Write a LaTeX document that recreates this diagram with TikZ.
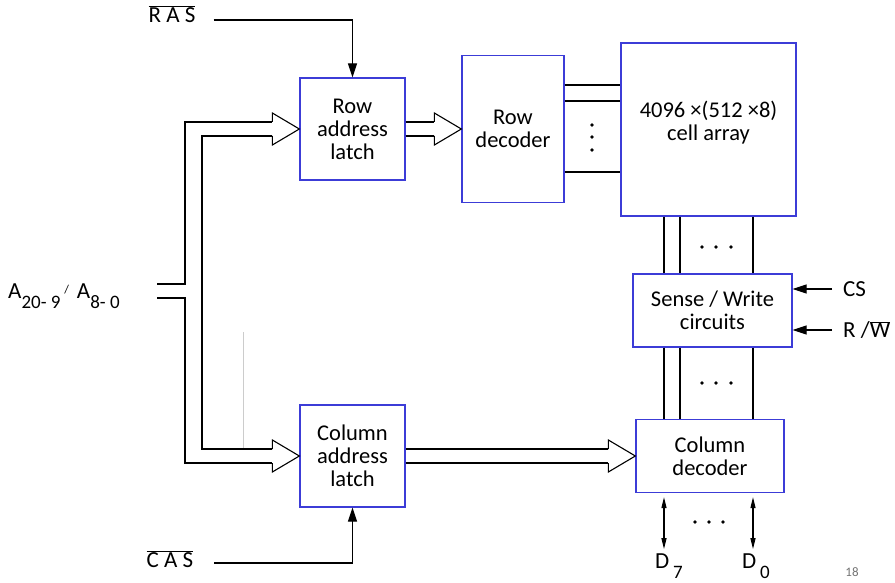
\documentclass[tikz,border=0pt]{standalone}
\usepackage{fontspec}
\setmainfont{Carlito}
\usetikzlibrary{arrows.meta,calc}
\definecolor{boxblue}{RGB}{60,60,215}
\newcommand{\lowsub}[1]{\raisebox{-0.45em}{\fontsize{19}{19}\selectfont #1}}
\tikzset{
  blk/.style={rectangle, draw=boxblue, line width=1.3pt, align=center,
    inner sep=0pt, font=\fontsize{22.5}{23}\selectfont},
  lbl/.style={inner sep=1pt, font=\fontsize{23}{23}\selectfont},
  wire/.style={line width=1.1pt, draw=black},
  sig/.style={wire, -{Triangle[length=14pt,width=9pt]}},
  io/.style={wire, {Triangle[length=11pt,width=5pt]}-{Triangle[length=11pt,width=5pt]}},
  bushead/.pic={\draw[wire, line join=miter] (-27,-7) -- (-27,-16) -- (0,0) -- (-27,16) -- (-27,7);},
}

\begin{document}
\begin{tikzpicture}[x=1pt, y=-1pt]
  \useasboundingbox (0,0) rectangle (895,583);
  % blocks
  \node[blk, minimum width=105pt, minimum height=102pt] (rlatch) at (352.5,129) {Row\\address\\latch};
  \node[blk, minimum width=102pt, minimum height=147pt] (rdec) at (513,129) {Row\\decoder};
  \node[blk, minimum width=175pt, minimum height=173pt,
    label={[blk, draw=none, yshift=7pt]center:{4096 ×(512 ×8)\\cell array}}] (cells) at (708.5,129.5) {};
  \node[blk, minimum width=159pt, minimum height=73pt] (sw) at (712.5,310.5) {Sense / Write\\circuits};
  \node[blk, minimum width=148pt, minimum height=73pt] (cdec) at (710,456) {Column\\decoder};
  \node[blk, minimum width=105pt, minimum height=102pt] (clatch) at (352.5,456) {Column\\address\\latch};

  % labels
  \node[lbl] (ras) at (172,14) {$\overline{\hbox{R A S}}$};
  \node[lbl] (cas) at (170,559) {$\overline{\hbox{C A S}}$};
  \node[lbl, anchor=base west] (addr) at (7,298)
    {A\lowsub{20- 9}\,\raisebox{5pt}{\fontsize{12}{12}\selectfont /}\hspace{8pt}A\lowsub{8- 0}};
  \node[lbl, anchor=west] (cs) at (842,289) {CS};
  \node[lbl, anchor=west] (rw) at (842,330) {R /$\overline{\hbox{W}}$};
  \node[lbl, anchor=base west] (d7) at (654,568) {D\,\lowsub{7}};
  \node[lbl, anchor=base west] (d0) at (741,568) {D\,\lowsub{0}};
  \node[inner sep=0pt, text=black!55, font=\fontsize{13}{13}\selectfont] (page) at (852,572) {18};

  % address bus
  \coordinate (bus) at (157,291);
  \coordinate (vo) at (185,291);
  \coordinate (vi) at (202,291);
  \draw[wire] ($(bus)+(0,-7)$) -| ($(vo)+(0,-7)$) |- ($(rlatch.west)+(-27,-7)$);
  \draw[wire] ($(bus)+(0,7)$) -| ($(vo)+(0,7)$) |- ($(clatch.west)+(-27,7)$);
  \draw[wire] ($(rlatch.west)+(-27,7)$) -| (vi) |- ($(clatch.west)+(-27,-7)$);
  \draw[black!20, line width=0.6pt] (243,332) -- (243,448);
  \pic at (rlatch.west) {bushead};
  \pic at (clatch.west) {bushead};
  \draw[wire] ($(rlatch.east)+(0,-7)$) -- ($(rdec.west)+(-27,-7)$);
  \draw[wire] ($(rlatch.east)+(0,7)$) -- ($(rdec.west)+(-27,7)$);
  \pic at (rdec.west) {bushead};
  \draw[wire] ($(clatch.east)+(0,-7)$) -- ($(cdec.west)+(-27,-7)$);
  \draw[wire] ($(clatch.east)+(0,7)$) -- ($(cdec.west)+(-27,7)$);
  \pic at (cdec.west) {bushead};

  % strobes and controls
  \draw[sig] ($(ras.east)+(17,6)$) -| (rlatch.north);
  \draw[sig] ($(cas.east)+(20,4)$) -| (clatch.south);
  \draw[sig, shorten <=10pt] (cs.west) -- (cs.west -| sw.east);
  \draw[sig, shorten <=10pt] (rw.west) -- (rw.west -| sw.east);

  % word lines
  \foreach \y in {85,101,172}
    \draw[wire] (rdec.east |- 0,\y) -- (cells.west |- 0,\y);
  \foreach \y in {125,137,150}
    \fill (592,\y) circle (1.8pt);

  % bit lines
  \coordinate (b7) at (664,0);
  \coordinate (b6) at (680,0);
  \coordinate (b0) at (753,0);
  \foreach \b in {b7,b6,b0} {
    \draw[wire] (\b |- cells.south) -- (\b |- sw.north);
    \draw[wire] (\b |- sw.south) -- (\b |- cdec.north);
  }
  \foreach \x in {702,716,731} {
    \fill (\x,247) circle (1.8pt);
    \fill (\x,383) circle (1.8pt);
  }

  % data lines
  \draw[io] ($(b7 |- cdec.south)+(0,4)$) -- ++(0,52);
  \draw[io] ($(b0 |- cdec.south)+(0,4)$) -- ++(0,52);
  \foreach \x in {695,709,723}
    \fill (\x,522) circle (1.8pt);
\end{tikzpicture}
\end{document}
